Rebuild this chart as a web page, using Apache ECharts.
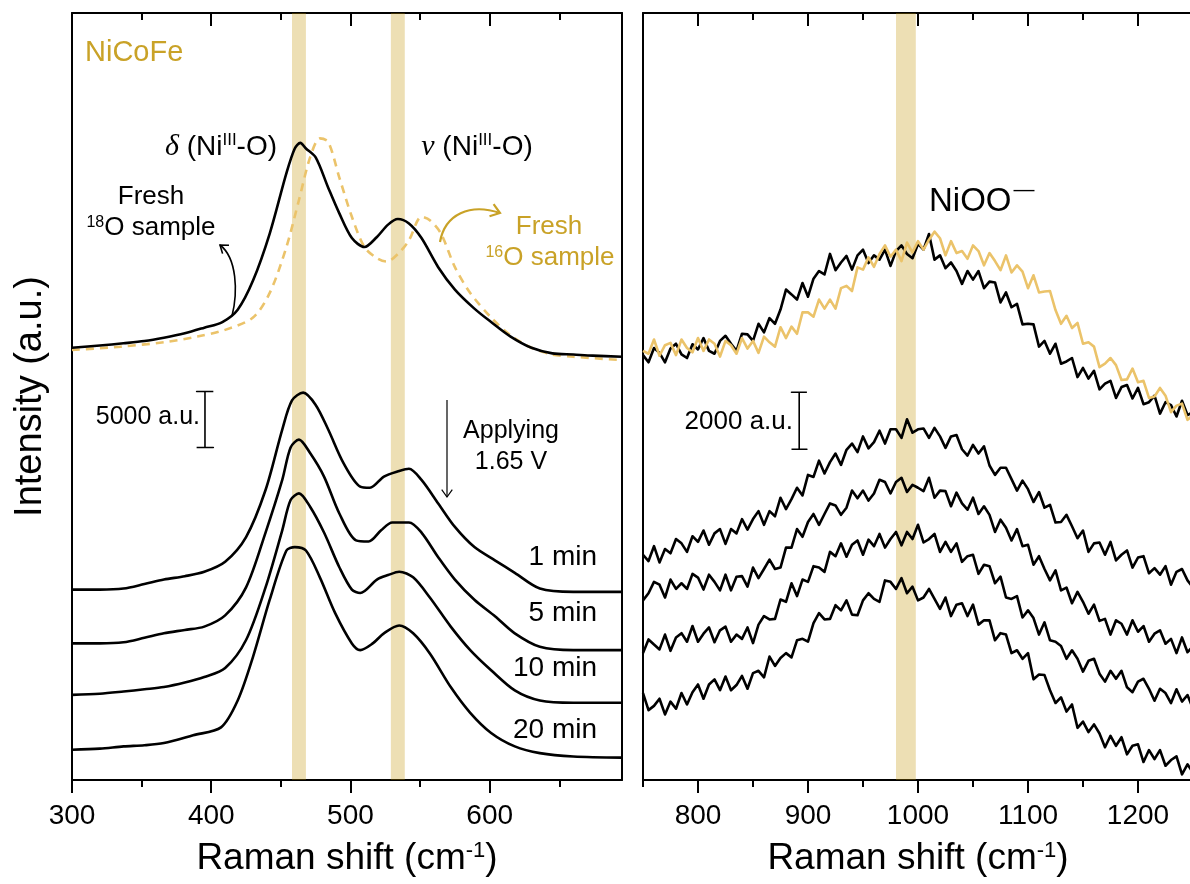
<!DOCTYPE html>
<html>
<head>
<meta charset="utf-8">
<script src="https://cdn.jsdelivr.net/npm/echarts@6/dist/echarts.min.js"></script>
<style>
  html, body { margin: 0; padding: 0; background: #fff; }
  #chart { width: 1190px; height: 884px; }
</style>
</head>
<body>
<div id="chart"></div>
<script>
// ---------- style constants ----------
const FONT = '"Liberation Sans", Arial, Helvetica, sans-serif';
const SERIF = '"Liberation Serif", "Times New Roman", serif';
const GOLD_TEXT = '#C9A227';
const GOLD_LINE = '#EBC36A';
const BAND = 'rgba(194,148,6,0.30)';

// ---------- low-wavenumber panel (Raman shift cm-1, intensity in 10^3 a.u., offset stack) ----------
const lowTicksMajor = [300, 400, 500, 600];
const lowTicksMinor = [350, 450, 550, 650];
const lowBands = [[458, 468], [529, 539]];

const fresh18O = [[300,38.6],[320,38.8],[337,39.0],[352,39.2],[366,39.5],[381,39.9],[395,40.4],[408,40.9],[419,42.0],[430,44.6],[442,48.8],[454,54.2],[460,56.4],[464,56.9],[468,56.4],[475,55.6],[484,52.9],[492,50.6],[501,48.4],[510,47.6],[519,48.5],[527,49.6],[534,50.1],[542,49.7],[551,48.4],[563,45.8],[575,43.8],[589,42.1],[601,40.9],[615,39.6],[630,38.6],[645,38.1],[660,38.0],[674,37.9],[695,37.8]];
const fresh16O = [[300,38.4],[335,38.7],[366,39.1],[390,39.6],[410,40.2],[430,41.3],[442,43.5],[454,47.6],[463,51.8],[471,55.6],[478,57.3],[484,57.0],[492,53.8],[501,50.3],[510,47.6],[519,46.6],[526,46.3],[535,47.1],[542,48.2],[551,50.3],[557,50.0],[565,48.8],[575,45.8],[586,43.5],[601,41.3],[615,39.7],[630,38.6],[645,38.0],[660,37.8],[695,37.5]];
const low1min = [[300,17.0],[320,17.0],[337,17.1],[352,17.5],[366,17.9],[381,18.2],[395,18.6],[410,19.5],[425,21.7],[439,25.9],[451,31.3],[458,33.9],[466,34.6],[475,33.5],[484,31.3],[495,28.3],[507,26.2],[514,26.1],[524,27.1],[535,27.6],[542,27.8],[551,26.8],[563,24.7],[575,22.6],[589,20.8],[604,19.6],[618,18.5],[636,17.1],[660,16.8],[695,16.8]];
const low5min = [[300,12.2],[320,12.2],[337,12.3],[352,12.7],[366,13.1],[381,13.4],[395,13.7],[410,14.7],[425,17.2],[439,22.1],[451,26.8],[457,29.7],[463,30.4],[471,29.2],[481,27.1],[492,23.8],[504,21.4],[513,21.3],[522,22.3],[530,23.0],[542,23.0],[551,22.1],[563,19.9],[575,17.9],[589,16.1],[604,14.6],[618,13.1],[636,11.9],[660,11.6],[695,11.6]];
const low10min = [[300,7.6],[320,7.7],[337,7.9],[352,8.1],[366,8.3],[381,8.7],[395,9.2],[410,10.0],[425,12.5],[439,17.2],[451,22.3],[457,25.0],[463,25.6],[471,24.4],[481,22.1],[492,19.0],[501,17.0],[507,16.7],[519,17.9],[527,18.3],[535,18.6],[545,18.1],[557,16.3],[572,13.7],[586,11.6],[601,9.8],[618,8.0],[636,7.1],[660,6.9],[695,6.9]];
const low20min = [[300,2.7],[320,2.8],[337,3.0],[352,3.1],[366,3.3],[387,4.0],[407,4.7],[419,7.1],[430,11.0],[442,16.1],[454,20.5],[460,20.8],[468,20.5],[478,18.1],[489,14.9],[501,12.2],[507,11.6],[516,12.2],[524,13.1],[535,13.8],[545,13.1],[557,11.3],[572,8.3],[586,6.0],[601,4.2],[618,3.0],[636,2.4],[660,2.1],[695,2.0]];
// 5000 a.u. scale bar (10^3 a.u.)
const lowScaleBar = { at: 395.5, cap: 6, from: 29.7, span: 5 };

// ---------- high-wavenumber panel ----------
const highTicksMajor = [800, 900, 1000, 1100, 1200];
const highTicksMinor = [750, 850, 950, 1050, 1150, 1250];
const highBands = [[980, 998]];

const highShift = [750,755,760,765,770,775,780,785,790,795,800,805,810,815,820,825,830,835,840,845,850,855,860,865,870,875,880,885,890,895,900,905,910,915,920,925,930,935,940,945,950,955,960,965,970,975,980,985,990,995,1000,1005,1010,1015,1020,1025,1030,1035,1040,1045,1050,1055,1060,1065,1070,1075,1080,1085,1090,1095,1100,1105,1110,1115,1120,1125,1130,1135,1140,1145,1150,1155,1160,1165,1170,1175,1180,1185,1190,1195,1200,1205,1210,1215,1220,1225,1230,1235,1240,1245,1250];
const highFresh18O = [14.9,14.65,15.15,14.98,14.65,15.13,15.3,14.93,14.8,15.28, 15.1,15.5,15.05,14.95,15.4,15.58,15.3,15.05,15.65,15.63, 15.4,16.0,15.7,16.2,16.0,16.5,17.2,17.03,16.85,17.43, 16.95,17.58,17.85,17.73,18.45,17.88,18.15,18.38,17.9,18.4, 18.6,18.13,18.4,18.25,18.6,18.03,18.55,18.75,18.45,18.3, 18.8,18.6,19.15,18.25,18.4,17.95,18.15,17.85,17.4,17.85, 17.55,17.85,17.25,17.48,17.45,16.75,17.1,16.58,16.7,15.98, 16.0,15.98,15.2,15.4,14.95,15.3,14.6,14.68,14.8,14.13, 14.45,14.08,14.35,13.7,13.9,14.0,13.4,13.78,13.85,13.38, 13.75,13.18,13.25,13.48,12.85,13.25,13.15,12.75,13.3,12.8, 12.9];
const highFresh16O = [15.05,14.95,15.45,14.88,15.25,15.33,14.9,15.45,15.15,15.0, 15.5,15.05,15.45,15.3,14.85,15.4,15.25,14.95,15.5,15.13, 15.4,14.98,15.55,15.35,15.2,15.88,15.5,15.9,15.65,16.4, 16.4,16.25,16.85,16.53,16.85,16.53,17.25,17.33,17.15,17.98, 17.9,18.33,18.0,18.45,18.75,18.35,18.6,18.2,18.85,18.5, 18.9,18.6,18.95,19.23,19.0,18.4,18.9,18.48,18.55,18.28, 18.75,18.55,18.05,18.48,18.2,17.88,18.4,17.8,18.05,17.83, 17.25,17.7,17.1,17.13,17.15,16.48,16.0,16.28,15.85,16.03, 15.3,15.35,15.2,14.48,14.6,14.8,14.55,14.03,14.05,14.43, 13.95,14.0,13.4,13.45,13.75,13.48,12.9,13.13,13.2,12.63, 12.8];
const high1min = [7.9,7.68,8.2,7.63,8.1,7.95,8.45,8.3,8.0,8.55, 8.35,8.75,8.25,8.65,8.8,8.28,8.8,8.65,9.15,8.78, 9.15,9.43,8.95,9.43,9.25,9.9,9.5,9.85,10.25,9.98, 10.7,10.63,11.2,10.75,11.15,11.45,11.05,11.58,11.8,11.5, 12.05,11.63,11.85,12.25,11.8,12.3,12.3,12.0,12.65,12.18, 12.3,12.33,12.0,12.35,12.05,11.65,12.05,12.1,11.6,11.38, 11.75,11.45,11.7,11.03,10.7,10.95,10.95,10.55,10.15,10.5, 10.2,9.75,10.1,9.55,9.65,9.03,9.05,9.3,8.9,8.48, 8.75,8.0,8.3,8.33,7.9,8.35,7.7,7.9,8.05,7.45, 7.8,7.85,7.25,7.43,7.2,7.5,6.85,7.3,7.4,7.0, 6.75];
const high5min = [6.3,6.55,6.95,6.85,6.4,7.03,6.7,6.9,6.7,7.23, 7.1,6.68,7.2,6.95,6.65,7.2,6.65,7.13,7.15,6.78, 7.45,7.08,7.4,7.73,7.4,7.45,8.15,8.15,8.8,8.53, 9.05,9.33,8.95,9.33,9.7,9.63,9.3,9.55,10.15,9.88, 10.15,9.8,10.05,10.53,10.45,10.05,10.45,10.6,10.1,10.35, 10.25,10.13,10.6,9.9,10.15,10.13,9.6,10.08,9.7,9.48, 9.9,9.33,9.6,9.3,8.7,9.13,8.85,8.4,8.8,8.2, 8.25,7.55,7.85,7.4,7.0,7.35,6.65,6.75,6.2,6.6, 6.25,5.83,6.15,5.58,5.65,5.1,5.6,5.48,5.1,5.6, 5.2,5.4,4.85,5.13,5.25,4.78,4.95,4.45,5.0,4.48, 4.7];
const high10min = [4.45,4.93,4.75,4.58,5.1,4.53,5.0,5.15,4.85,5.4, 4.85,5.13,5.35,4.83,5.25,5.38,4.85,5.1,4.95,5.35, 4.8,5.45,5.75,5.63,5.65,6.33,6.25,6.9,6.45,7.03, 6.95,7.5,7.45,7.3,8.0,7.85,8.3,7.83,8.25,8.4, 7.9,8.43,8.2,8.63,8.15,8.45,8.7,8.23,8.7,8.45, 8.95,8.33,8.45,8.63,8.0,8.35,8.0,8.3,7.65,7.85, 7.9,7.23,7.55,7.5,6.9,7.13,6.4,6.35,6.45,5.7, 5.95,5.68,5.1,5.53,4.9,4.85,4.7,4.25,4.55,4.25, 3.8,4.18,4.25,3.73,3.45,3.83,3.55,3.83,3.25,3.08, 3.45,3.55,3.2,2.78,3.2,3.05,2.7,3.18,2.75,2.98, 2.5];
const high20min = [3.05,2.45,2.6,2.85,2.3,2.75,2.5,3.05,2.65,3.08, 3.35,2.85,3.35,3.53,3.15,3.63,3.15,3.33,3.65,3.2, 3.75,3.83,3.6,4.33,4.0,4.28,4.45,4.3,4.9,4.95, 4.85,5.5,5.85,5.63,5.65,6.13,5.95,6.3,5.8,5.78, 6.3,6.55,6.35,6.25,7.0,6.95,6.7,7.08,6.55,6.78, 6.3,6.4,6.7,6.35,6.0,6.4,5.75,6.15,6.2,5.75, 6.15,5.45,5.6,5.6,4.9,5.15,5.1,4.45,4.55,4.25, 4.45,3.53,3.7,3.68,3.15,2.7,2.9,2.4,2.65,1.83, 2.05,1.68,1.95,1.63,1.15,1.55,1.2,1.5,0.9,1.2, 1.25,0.63,1.05,0.73,1.05,0.5,0.7,0.83,0.2,0.55, 0.25];
// 2000 a.u. scale bar (10^3 a.u.)
const highScaleBar = { at: 892, cap: 7, from: 11.6, span: 2 };

const timeLabels = ['1 min', '5 min', '10 min', '20 min'];

// ---------- helpers ----------
const pair = (xs, ys) => xs.map((x, i) => [x, ys[i]]);

function scaleBarPath(b) {
  const lo = b.from, hi = b.from + b.span;
  return [[b.at - b.cap, lo], [b.at + b.cap, lo], [b.at, lo], [b.at, hi], [b.at - b.cap, hi], [b.at + b.cap, hi]];
}

function frameXAxes(gridIndex, min, max, major, minor) {
  const line = { show: true, onZero: false, lineStyle: { color: '#000', width: 2 } };
  const noLine = { show: false, onZero: false };
  const tick = (vals, len, inside) => ({ show: true, customValues: vals, length: len, inside: inside, lineStyle: { color: '#000', width: 2 } });
  // tick-only axes keep an (empty) label set so the custom tick positions are honoured
  const blankLabels = vals => ({ show: true, customValues: vals, formatter: () => '' });
  const base = { type: 'value', gridIndex: gridIndex, min: min, max: max, splitLine: { show: false } };
  return [
    Object.assign({}, base, {
      position: 'bottom', axisLine: line, axisTick: tick(major, 13, false),
      axisLabel: { show: true, customValues: major, fontSize: 28, color: '#000', fontFamily: FONT, margin: 22, formatter: v => String(v) },
      name: '{n|Raman shift (cm}{s|-1}{n|)}', nameLocation: 'middle', nameGap: 60,
      nameTextStyle: {
        fontFamily: FONT, fontSize: 37, color: '#000',
        rich: {
          n: { fontFamily: FONT, fontSize: 37, color: '#000' },
          s: { fontFamily: FONT, fontSize: 22, color: '#000', verticalAlign: 'top' }
        }
      }
    }),
    Object.assign({}, base, { position: 'bottom', axisLine: noLine, axisTick: tick(minor, 7, false), axisLabel: blankLabels(minor) }),
    Object.assign({}, base, { position: 'top', axisLine: line, axisTick: tick(major, 13, true), axisLabel: blankLabels(major) }),
    Object.assign({}, base, { position: 'top', axisLine: noLine, axisTick: tick(minor, 7, true), axisLabel: blankLabels(minor) })
  ];
}

function frameYAxes(gridIndex, max, name) {
  const line = { show: true, onZero: false, lineStyle: { color: '#000', width: 2 } };
  const base = { type: 'value', gridIndex: gridIndex, min: 0, max: max, splitLine: { show: false }, axisTick: { show: false }, axisLabel: { show: false } };
  const left = Object.assign({}, base, { position: 'left', axisLine: line });
  if (name) {
    Object.assign(left, {
      name: name, nameLocation: 'middle', nameGap: 22,
      nameTextStyle: { fontFamily: FONT, fontSize: 38, color: '#000' }
    });
  }
  return [left, Object.assign({}, base, { position: 'right', axisLine: line })];
}

function curve(data, xi, yi, color, width, dashed, smooth) {
  return {
    type: 'line', data: data, xAxisIndex: xi, yAxisIndex: yi,
    showSymbol: false, symbol: 'none', smooth: smooth, animation: false, silent: true, z: 2,
    lineStyle: { color: color, width: width, type: dashed ? [8, 6] : 'solid', cap: 'butt', join: 'round' }
  };
}

function bands(ranges, xi, yi) {
  return {
    type: 'line', data: [], xAxisIndex: xi, yAxisIndex: yi, silent: true, animation: false, z: 6,
    markArea: {
      silent: true, itemStyle: { color: BAND },
      data: ranges.map(r => [{ xAxis: r[0] }, { xAxis: r[1] }])
    }
  };
}

function text(x, y, content, opt) {
  return {
    type: 'text', x: x, y: y, z: 20, silent: true,
    style: Object.assign({ text: content, fontFamily: FONT, fontSize: 26, fill: '#000', align: 'center', verticalAlign: 'middle' }, opt || {})
  };
}

// rich-text styles for graphic text (fill is the colour key there)
function supRich(size, color) {
  return {
    n: { fontFamily: FONT, fontSize: size, fill: color },
    s: { fontFamily: FONT, fontSize: Math.round(size * 0.62), fill: color, verticalAlign: 'top' },
    g: { fontFamily: SERIF, fontStyle: 'italic', fontSize: size + 2, fill: color }
  };
}

function arrow(p0, c1, c2, p3, color, width, head) {
  const ang = Math.atan2(p3[1] - c2[1], p3[0] - c2[0]);
  const a1 = ang + Math.PI * 0.8, a2 = ang - Math.PI * 0.8;
  return [
    { type: 'bezierCurve', z: 20, silent: true,
      shape: { x1: p0[0], y1: p0[1], cpx1: c1[0], cpy1: c1[1], cpx2: c2[0], cpy2: c2[1], x2: p3[0], y2: p3[1] },
      style: { stroke: color, lineWidth: width, fill: null } },
    { type: 'polyline', z: 20, silent: true,
      shape: { points: [[p3[0] + head * Math.cos(a1), p3[1] + head * Math.sin(a1)], p3, [p3[0] + head * Math.cos(a2), p3[1] + head * Math.sin(a2)]] },
      style: { stroke: color, lineWidth: width, fill: null } }
  ];
}

// ---------- option ----------
const option = {
  backgroundColor: '#fff',
  animation: false,
  grid: [
    { left: 72, top: 13, width: 550, height: 767, outerBoundsMode: 'none', containLabel: false },
    // the high-wavenumber frame runs past the right edge of the page
    { left: 643, top: 13, width: 550, height: 767, outerBoundsMode: 'none', containLabel: false }
  ],
  xAxis: [].concat(
    frameXAxes(0, 300, 695, lowTicksMajor, lowTicksMinor),
    frameXAxes(1, 750, 1250, highTicksMajor, highTicksMinor)
  ),
  yAxis: [].concat(
    frameYAxes(0, 68.5, 'Intensity (a.u.)'),
    frameYAxes(1, 26.9, null)
  ),
  series: [
    // low-wavenumber panel
    curve(fresh16O, 0, 0, GOLD_LINE, 2.6, true, 0.3),
    curve(fresh18O, 0, 0, '#000', 2.6, false, 0.3),
    curve(low1min, 0, 0, '#000', 2.6, false, 0.3),
    curve(low5min, 0, 0, '#000', 2.6, false, 0.3),
    curve(low10min, 0, 0, '#000', 2.6, false, 0.3),
    curve(low20min, 0, 0, '#000', 2.6, false, 0.3),
    curve(scaleBarPath(lowScaleBar), 0, 0, '#000', 1.6, false, false),
    bands(lowBands, 0, 0),
    // high-wavenumber panel
    curve(pair(highShift, highFresh18O), 4, 2, '#000', 2.6, false, false),
    curve(pair(highShift, highFresh16O), 4, 2, GOLD_LINE, 2.6, false, false),
    curve(pair(highShift, high1min), 4, 2, '#000', 2.6, false, false),
    curve(pair(highShift, high5min), 4, 2, '#000', 2.6, false, false),
    curve(pair(highShift, high10min), 4, 2, '#000', 2.6, false, false),
    curve(pair(highShift, high20min), 4, 2, '#000', 2.6, false, false),
    curve(scaleBarPath(highScaleBar), 4, 2, '#000', 1.6, false, false),
    bands(highBands, 4, 2)
  ],
  graphic: [].concat(
    [
      text(85, 53, 'NiCoFe', { fontSize: 29, fill: GOLD_TEXT, align: 'left' }),
      text(221, 147, '{g|δ}{n| (Ni}{s|III}{n|-O)}', { rich: supRich(28, '#000') }),
      text(477, 147, '{g|ν}{n| (Ni}{s|III}{n|-O)}', { rich: supRich(28, '#000') }),
      text(151, 197, 'Fresh', { fontSize: 26 }),
      text(151, 228, '{s|18}{n|O sample}', { rich: supRich(26, '#000') }),
      text(549, 227, 'Fresh', { fontSize: 26, fill: GOLD_TEXT }),
      text(550, 258, '{s|16}{n|O sample}', { rich: supRich(26, GOLD_TEXT), fill: GOLD_TEXT }),
      text(200, 417, '5000 a.u.', { fontSize: 25, align: 'right' }),
      text(511, 431, 'Applying', { fontSize: 25 }),
      text(511, 462, '1.65 V', { fontSize: 25 }),
      text(597, 557, timeLabels[0], { fontSize: 28, align: 'right' }),
      text(597, 613, timeLabels[1], { fontSize: 28, align: 'right' }),
      text(597, 668, timeLabels[2], { fontSize: 28, align: 'right' }),
      text(597, 730, timeLabels[3], { fontSize: 28, align: 'right' }),
      text(929, 202, 'NiOO', { fontSize: 33, align: 'left' }),
      text(1024, 190, '—', { fontSize: 21 }),
      text(793, 422, '2000 a.u.', { fontSize: 26, align: 'right' })
    ],
    arrow([232, 316], [238, 292], [237, 258], [220, 245], '#000', 1.6, 9),
    arrow([440, 242], [445, 214], [470, 203], [500, 213], GOLD_TEXT, 2.2, 11),
    arrow([447, 400], [447, 430], [447, 470], [447, 497], '#000', 1.2, 9)
  )
};

const chart = echarts.init(document.getElementById('chart'));
chart.setOption(option);
</script>
</body>
</html>
